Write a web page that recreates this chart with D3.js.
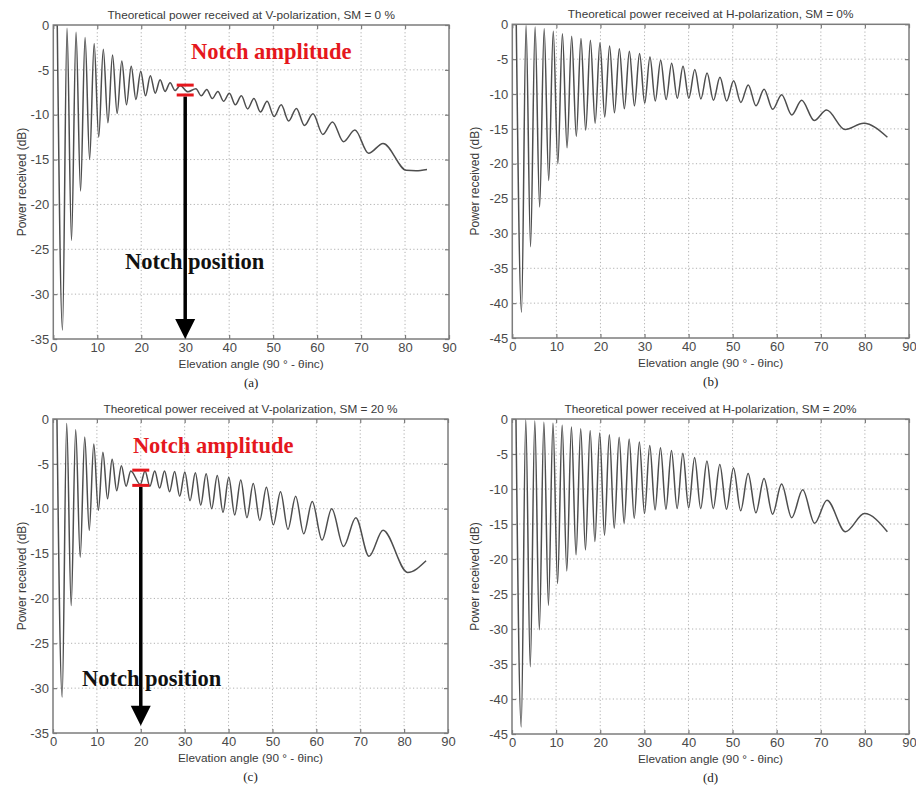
<!DOCTYPE html>
<html>
<head>
<meta charset="utf-8">
<script src="https://cdn.jsdelivr.net/npm/d3@7"></script>
<style>
  body { margin: 0; background: #fff; }
  svg { display: block; }
</style>
</head>
<body>
<svg id="chart" width="916" height="787"></svg>
<script>
// ---------------- DATA ----------------
const xTickValues = [0, 10, 20, 30, 40, 50, 60, 70, 80, 90];
const yTicksV = [-35, -30, -25, -20, -15, -10, -5, 0];
const yTicksH = [-45, -40, -35, -30, -25, -20, -15, -10, -5, 0];

const panelTitles = [
  "Theoretical power received at V-polarization, SM = 0 %",
  "Theoretical power received at H-polarization, SM = 0%",
  "Theoretical power received at V-polarization, SM = 20 %",
  "Theoretical power received at H-polarization, SM = 20%"
];
const panelCaptions = ["(a)", "(b)", "(c)", "(d)"];
const xAxisLabel = "Elevation angle (90 ° - θinc)";
const yAxisLabel = "Power received (dB)";

// (a) V-pol, SM = 0 %  (peaks and notches)
const vSm0Angle = [0.9, 2.09, 3.12, 4.14, 5.17, 6.20, 7.23, 8.26, 9.29, 10.33, 11.37, 12.42, 13.47, 14.52,
  15.58, 16.65, 17.72, 18.79, 19.88, 20.97, 22.07, 23.18, 24.29, 25.42, 26.56, 27.71, 28.87, 30.6,
  32.43, 33.66, 34.90, 36.15, 37.43, 38.73, 40.05, 41.40, 42.78, 44.19, 45.63, 47.11, 48.63, 50.21,
  51.84, 53.53, 55.29, 57.13, 59.07, 61.3, 63.5, 66.0, 68.6, 71.7, 75.0, 80.3, 82.5, 85.0];
const vSm0Power = [0, -34.0, -0.35, -24.0, -0.8, -18.5, -1.4, -15.0, -2.05, -12.5, -2.7, -10.9, -3.35, -9.85,
  -4.0, -8.9, -4.6, -8.3, -5.15, -7.9, -5.65, -7.6, -6.1, -7.4, -6.45, -7.3, -6.75, -7.45,
  -7.1, -7.9, -7.2, -8.2, -7.4, -8.5, -7.6, -8.9, -7.9, -9.35, -8.2, -9.7, -8.5, -10.2,
  -8.9, -10.7, -9.3, -11.2, -9.9, -12.2, -10.8, -13.0, -11.7, -14.3, -13.2, -16.2, -16.25, -16.1];

// (b) H-pol, SM = 0 %
const hSm0Angle = [0.9, 2.09, 3.12, 4.14, 5.17, 6.20, 7.23, 8.26, 9.29, 10.33, 11.37, 12.42, 13.47, 14.52,
  15.58, 16.65, 17.72, 18.79, 19.88, 20.97, 22.07, 23.18, 24.29, 25.42, 26.56, 27.71, 28.87, 30.04,
  31.23, 32.43, 33.66, 34.90, 36.15, 37.43, 38.73, 40.05, 41.40, 42.78, 44.19, 45.63, 47.11, 48.63,
  50.21, 51.84, 53.53, 55.29, 57.13, 59.07, 61.11, 63.4, 65.65, 68.5, 71.3, 75.5, 79.7, 85.1];
const hSm0Power = [0, -41.3, -0.15, -31.9, -0.4, -26.2, -0.65, -22.4, -1.0, -20.0, -1.35, -17.7, -1.7, -16.1,
  -2.05, -15.2, -2.3, -14.2, -2.65, -13.3, -3.1, -12.7, -3.5, -12.1, -3.85, -11.7, -4.2, -11.3,
  -4.7, -11.0, -5.15, -10.8, -5.6, -10.6, -6.0, -10.6, -6.5, -10.7, -7.0, -10.9, -7.6, -11.0,
  -8.1, -11.2, -8.7, -11.7, -9.3, -12.2, -10.1, -13.0, -10.9, -13.8, -12.3, -15.1, -14.2, -16.2];

// (c) V-pol, SM = 20 %
const vSm20Angle = [0.9, 2.09, 3.12, 4.14, 5.17, 6.20, 7.23, 8.26, 9.29, 10.33, 11.37, 12.42, 13.47, 14.52,
  15.58, 16.65, 17.72, 19.9, 20.97, 22.07, 23.18, 24.29, 25.42, 26.56, 27.71, 28.87, 30.04, 31.23,
  32.43, 33.66, 34.90, 36.15, 37.43, 38.73, 40.05, 41.40, 42.78, 44.19, 45.63, 47.11, 48.63, 50.21,
  51.84, 53.53, 55.29, 57.13, 59.07, 61.3, 63.5, 66.2, 69.0, 72.0, 75.2, 80.8, 85.0];
const vSm20Power = [0, -31.0, -0.5, -20.8, -1.2, -15.4, -2.0, -12.4, -2.8, -10.2, -3.7, -8.9, -4.5, -8.0,
  -5.2, -7.5, -5.8, -7.3, -5.8, -7.5, -5.8, -7.7, -5.8, -8.1, -5.85, -8.6, -5.9, -9.1,
  -6.0, -9.6, -6.1, -10.0, -6.3, -10.4, -6.5, -10.7, -6.8, -11.0, -7.2, -11.3, -7.6, -11.8,
  -8.1, -12.3, -8.6, -12.8, -9.2, -13.5, -10.0, -14.2, -11.0, -15.3, -12.4, -17.1, -15.8];

// (d) H-pol, SM = 20 %
const hSm20Angle = [0.9, 2.09, 3.12, 4.14, 5.17, 6.20, 7.23, 8.26, 9.29, 10.33, 11.37, 12.42, 13.47, 14.52,
  15.58, 16.65, 17.72, 18.79, 19.88, 20.97, 22.07, 23.18, 24.29, 25.42, 26.56, 27.71, 28.87, 30.04,
  31.23, 32.43, 33.66, 34.90, 36.15, 37.43, 38.73, 40.05, 41.40, 42.78, 44.19, 45.63, 47.11, 48.63,
  50.21, 51.84, 53.53, 55.29, 57.13, 59.07, 61.11, 63.4, 65.9, 68.6, 71.4, 75.6, 79.9, 85.1];
const hSm20Power = [0, -44.0, -0.1, -35.4, -0.3, -30.1, -0.45, -26.6, -0.6, -23.5, -0.9, -21.7, -1.15, -19.4,
  -1.4, -18.7, -1.65, -17.5, -2.0, -16.6, -2.25, -15.6, -2.6, -14.9, -2.85, -14.2, -3.3, -13.5,
  -3.8, -13.0, -4.1, -12.9, -4.5, -12.8, -4.9, -12.7, -5.5, -12.8, -6.0, -12.8, -6.5, -12.9,
  -7.0, -13.1, -7.8, -13.4, -8.5, -13.6, -9.3, -14.1, -10.1, -14.9, -11.6, -16.1, -13.5, -16.1];

// annotations (V-pol panels only)
const notchAngles = [30, 20];
const notchAmpTop = [-6.7, -5.7];
const notchAmpBottom = [-7.8, -7.4];
const notchArrowTip = [-35, -34.2];
const annotationLabels = ["Notch amplitude", "Notch position"];

// ---------------- LAYOUT ----------------
const panels = [
  { angle: vSm0Angle, power: vSm0Power, yTicks: yTicksV, box: { l: 53.3, t: 25, r: 449, b: 339 }, ylabX: 26, notch: 0,
    ampText: [31.3, -3.8], posText: [16.3, -27.2] },
  { angle: hSm0Angle, power: hSm0Power, yTicks: yTicksH, box: { l: 512.3, t: 24.3, r: 909, b: 338 }, ylabX: 479, notch: null },
  { angle: vSm20Angle, power: vSm20Power, yTicks: yTicksV, box: { l: 53, t: 419, r: 448, b: 733 }, ylabX: 26, notch: 1,
    ampText: [18.2, -3.8], posText: [6.6, -29.8] },
  { angle: hSm20Angle, power: hSm20Power, yTicks: yTicksH, box: { l: 512, t: 419, r: 909, b: 734 }, ylabX: 479, notch: null }
];

const SANS = "'Liberation Sans', Arial, Helvetica, sans-serif";
const SERIF = "'Liberation Serif', 'Times New Roman', serif";
const AXIS_COLOR = "#7c7c7c";
const TEXT_COLOR = "#3a3a3a";
const RED = "#e5171d";

const svg = d3.select("#chart");
svg.append("rect").attr("width", 916).attr("height", 787).attr("fill", "#fff");

panels.forEach((p, i) => {
  const { l, t, r, b } = p.box;
  const x = d3.scaleLinear().domain([0, 90]).range([l, r]);
  const y = d3.scaleLinear().domain([d3.min(p.yTicks), 0]).range([b, t]);
  const g = svg.append("g");

  // grid
  const grid = g.append("g").attr("stroke", "#b0b0b0").attr("stroke-width", 1)
    .attr("stroke-dasharray", "1.2,2.4").attr("fill", "none");
  grid.selectAll("line.gx").data(xTickValues.filter(v => v > 0 && v < 90)).join("line")
    .attr("x1", d => x(d)).attr("x2", d => x(d)).attr("y1", t).attr("y2", b);
  grid.selectAll("line.gy").data(p.yTicks.filter(v => v > d3.min(p.yTicks) && v < 0)).join("line")
    .attr("y1", d => y(d)).attr("y2", d => y(d)).attr("x1", l).attr("x2", r);

  // axes (MATLAB-style inward ticks)
  const styleAxis = sel => {
    sel.select(".domain").remove();
    sel.selectAll(".tick line").attr("stroke", AXIS_COLOR).attr("stroke-width", 1.2);
    sel.selectAll(".tick text").attr("fill", "#4a4a4a").style("font-family", SANS).style("font-size", "13px");
  };
  g.append("g").attr("transform", `translate(0,${b})`)
    .call(d3.axisBottom(x).tickValues(xTickValues).tickSizeInner(-4).tickSizeOuter(0).tickPadding(4).tickFormat(d => String(d)))
    .call(styleAxis);
  g.append("g").attr("transform", `translate(${l},0)`)
    .call(d3.axisLeft(y).tickValues(p.yTicks).tickSizeInner(-4).tickSizeOuter(0).tickPadding(4).tickFormat(d => String(d)))
    .call(styleAxis);
  g.append("g").attr("transform", `translate(0,${t})`)
    .call(d3.axisTop(x).tickValues(xTickValues).tickSizeInner(-4).tickSizeOuter(0).tickFormat(""))
    .call(styleAxis);
  g.append("g").attr("transform", `translate(${r},0)`)
    .call(d3.axisRight(y).tickValues(p.yTicks).tickSizeInner(-4).tickSizeOuter(0).tickFormat(""))
    .call(styleAxis);

  // data line
  const pts = d3.zip(p.angle, p.power);
  const line = d3.line().x(d => x(d[0])).y(d => y(d[1])).curve(d3.curveMonotoneX);
  g.append("path").datum(pts).attr("d", line)
    .attr("fill", "none").attr("stroke", "#4e4e4e").attr("stroke-width", 1.5).attr("stroke-linejoin", "round");

  // box
  g.append("rect").attr("x", l).attr("y", t).attr("width", r - l).attr("height", b - t)
    .attr("fill", "none").attr("stroke", AXIS_COLOR).attr("stroke-width", 1.5);

  // texts
  g.append("text").attr("x", (l + r) / 2).attr("y", t - 6).attr("text-anchor", "middle")
    .style("font-family", SANS).style("font-size", "11.8px").attr("fill", TEXT_COLOR).text(panelTitles[i]);
  g.append("text").attr("x", (l + r) / 2).attr("y", b + 29).attr("text-anchor", "middle")
    .style("font-family", SANS).style("font-size", "11.8px").attr("fill", TEXT_COLOR).text(xAxisLabel);
  g.append("text").attr("x", (l + r) / 2).attr("y", b + 48).attr("text-anchor", "middle")
    .style("font-family", SERIF).style("font-size", "13px").attr("fill", "#222").text(panelCaptions[i]);
  g.append("text").attr("transform", `translate(${p.ylabX},${(t + b) / 2}) rotate(-90)`).attr("text-anchor", "middle")
    .style("font-family", SANS).style("font-size", "12px").attr("fill", TEXT_COLOR).text(yAxisLabel);

  // annotations
  if (p.notch !== null) {
    const k = p.notch;
    const nx = x(notchAngles[k]);
    const yTop = y(notchAmpTop[k]);
    const yBot = y(notchAmpBottom[k]);
    const tip = y(notchArrowTip[k]);
    g.append("text").attr("x", x(p.ampText[0])).attr("y", y(p.ampText[1]))
      .style("font-family", SERIF).style("font-weight", "bold").style("font-size", "22.5px")
      .attr("fill", RED).text(annotationLabels[0]);
    g.append("text").attr("x", x(p.posText[0])).attr("y", y(p.posText[1]))
      .style("font-family", SERIF).style("font-weight", "bold").style("font-size", "22.5px")
      .attr("fill", "#111").text(annotationLabels[1]);
    g.append("line").attr("x1", nx).attr("x2", nx).attr("y1", yBot + 1.5).attr("y2", tip - 18)
      .attr("stroke", "#000").attr("stroke-width", 3.5);
    g.append("path").attr("d", `M${nx - 10},${tip - 20}L${nx + 10},${tip - 20}L${nx},${tip}Z`).attr("fill", "#000");
    [yTop, yBot].forEach(yy => {
      g.append("line").attr("x1", nx - 8.5).attr("x2", nx + 8.5).attr("y1", yy).attr("y2", yy)
        .attr("stroke", RED).attr("stroke-width", 3);
    });
  }
});
</script>
</body>
</html>
